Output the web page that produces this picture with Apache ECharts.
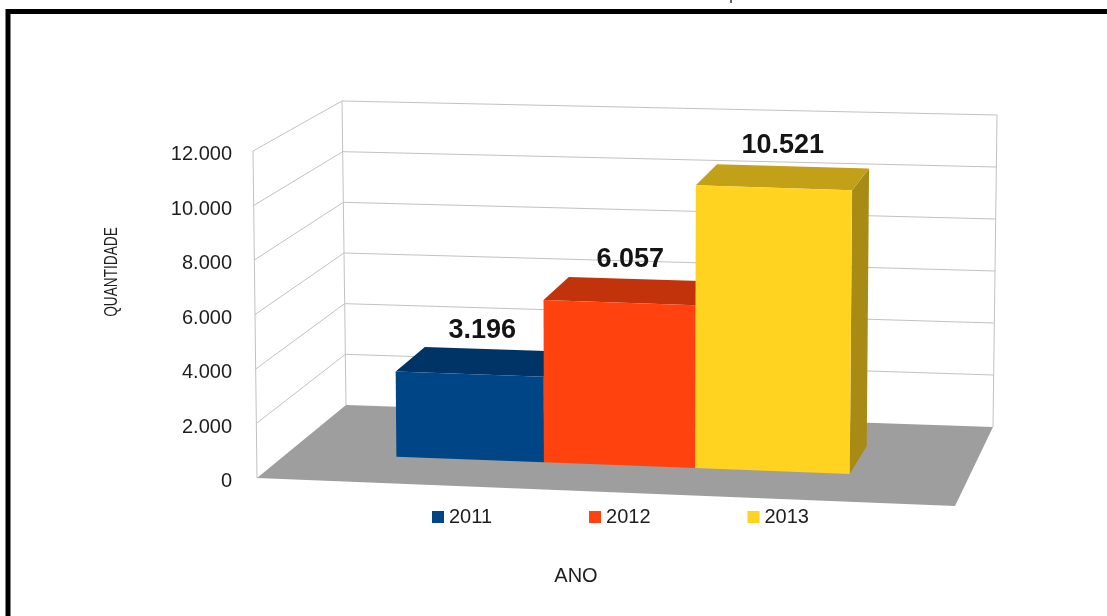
<!DOCTYPE html>
<html>
<head>
<meta charset="utf-8">
<title>Quantidade por ano</title>
<script src="https://cdn.jsdelivr.net/npm/echarts/dist/echarts.min.js"></script>
<style>
  html, body { margin: 0; padding: 0; background: #ffffff; }
  #chart { width: 1107px; height: 616px; }
</style>
</head>
<body>
<div id="chart"></div>
<script>
// ---- data ----
const years = ['2011', '2012', '2013'];
const quantities = [3196, 6057, 10521];
const yTicks = [0, 2000, 4000, 6000, 8000, 10000, 12000];
const yTickLabels = ['0', '2.000', '4.000', '6.000', '8.000', '10.000', '12.000'];

// ---- styling ----
const Y_MAX = 12000;
const Y_STEP = 2000;
const FONT = '"Liberation Sans", Arial, sans-serif';
const BAR_COLORS = ['#004586', '#ff420e', '#ffd320'];
const GRID_COLOR = '#c2c2c2';
const FLOOR_COLOR = '#9e9e9e';
const BAR_DEPTH = [0.33, 0.69];          // front / back of the bars inside the box (0 = front, 1 = back)
const GAP = 0.75;                        // half gap on each side, in bar widths
const LEAN = [-4, 4];                    // horizontal drift of verticals at the left / right of the box

function shade(hex, k) {
  const n = parseInt(hex.slice(1), 16);
  const r = Math.round(((n >> 16) & 255) * k);
  const g = Math.round(((n >> 8) & 255) * k);
  const b = Math.round((n & 255) * k);
  return 'rgb(' + r + ',' + g + ',' + b + ')';
}

function thousands(v) {
  return String(v).replace(/\B(?=(\d{3})+(?!\d))/g, '.');
}

// unit square -> quadrilateral (projective map); p0=(0,0) p1=(1,0) p2=(1,1) p3=(0,1)
function quadMap(p0, p1, p2, p3) {
  const dx1 = p1[0] - p2[0], dx2 = p3[0] - p2[0], dx3 = p0[0] - p1[0] + p2[0] - p3[0];
  const dy1 = p1[1] - p2[1], dy2 = p3[1] - p2[1], dy3 = p0[1] - p1[1] + p2[1] - p3[1];
  const den = dx1 * dy2 - dx2 * dy1;
  const g = (dx3 * dy2 - dx2 * dy3) / den;
  const h = (dx1 * dy3 - dx3 * dy1) / den;
  const a = p1[0] - p0[0] + g * p1[0], b = p3[0] - p0[0] + h * p3[0], c = p0[0];
  const d = p1[1] - p0[1] + g * p1[1], e = p3[1] - p0[1] + h * p3[1], f = p0[1];
  return function (u, v) {
    const w = g * u + h * v + 1;
    return [(a * u + b * v + c) / w, (d * u + e * v + f) / w];
  };
}

// 3D box view anchored on the value axis: u = left->right, v = front->back, val = axis value
function makeView(api) {
  const o = api.coord([0, 0]);
  const t = api.coord([0, Y_MAX]);
  const floor = quadMap([o[0] + 2, o[1]], [o[0] + 700, o[1] + 28],
                        [o[0] + 738, o[1] - 51], [o[0] + 91, o[1] - 73]);
  const ceil = quadMap([t[0] - 2, t[1]], [t[0] + 705, t[1] + 25],
                       [t[0] + 742, t[1] - 36], [t[0] + 88, t[1] - 50]);
  const span = o[1] - t[1];
  return function (u, v, val) {
    const h = (o[1] - api.coord([0, val])[1]) / span;
    const a = floor(u, v), b = ceil(u, v);
    const lean = LEAN[0] + (LEAN[1] - LEAN[0]) * u;
    return [a[0] + lean * h, a[1] + (b[1] - a[1]) * h];
  };
}

// walls, gridlines and floor
function renderWalls(params, api) {
  const P = makeView(api);
  const val = api.value(1);
  const lineStyle = { stroke: GRID_COLOR, lineWidth: 1, fill: null };
  const children = [];
  if (val === 0) {
    [[0, 0], [0, 1], [1, 1]].forEach(function (c) {
      children.push({ type: 'polyline', shape: { points: [P(c[0], c[1], 0), P(c[0], c[1], Y_MAX)] }, style: lineStyle });
    });
    children.push({
      type: 'polygon',
      shape: { points: [P(0, 0, 0), P(1, 0, 0), P(1, 1, 0), P(0, 1, 0)] },
      style: { fill: FLOOR_COLOR }
    });
  } else {
    children.push({ type: 'polyline', shape: { points: [P(0, 0, val), P(0, 1, val), P(1, 1, val)] }, style: lineStyle });
  }
  return { type: 'group', children: children };
}

// one 3D bar per year
function renderBar(params, api) {
  const P = makeView(api);
  const i = params.seriesIndex - 1;
  const val = api.value(1);
  const n = years.length;
  const total = n + 2 * GAP;
  const u0 = (GAP + i) / total, u1 = (GAP + i + 1) / total;
  const vf = BAR_DEPTH[0], vb = BAR_DEPTH[1];
  const color = BAR_COLORS[i];
  const side = [P(u1, vf, 0), P(u1, vb, 0), P(u1, vb, val), P(u1, vf, val)];
  const top = [P(u0, vf, val), P(u1, vf, val), P(u1, vb, val), P(u0, vb, val)];
  const front = [P(u0, vf, 0), P(u1, vf, 0), P(u1, vf, val), P(u0, vf, val)];
  const c = P((u0 + u1) / 2, 0.5, val);
  return {
    type: 'group',
    children: [
      { type: 'polygon', shape: { points: side }, style: { fill: shade(color, 0.66) } },
      { type: 'polygon', shape: { points: top }, style: { fill: shade(color, 0.76) } },
      { type: 'polygon', shape: { points: front }, style: { fill: color } },
      {
        type: 'text', x: c[0], y: c[1] - 32, z2: 10,
        style: {
          text: thousands(val), fill: '#141414',
          font: 'bold 27px ' + FONT, align: 'center', verticalAlign: 'middle'
        }
      }
    ]
  };
}

const series = [{
  name: 'walls',
  type: 'custom',
  renderItem: renderWalls,
  clip: false,
  silent: true,
  data: yTicks.map(function (v) { return [0, v]; })
}];
years.forEach(function (y, i) {
  series.push({
    name: y,
    type: 'custom',
    renderItem: renderBar,
    clip: false,
    itemStyle: { color: BAR_COLORS[i] },
    data: [[0, quantities[i]]]
  });
});

const chart = echarts.init(document.getElementById('chart'), null, { renderer: 'canvas' });
chart.setOption({
  animation: false,
  backgroundColor: '#ffffff',
  color: BAR_COLORS,
  grid: { left: 255, top: 151, right: 210, bottom: 138 },
  xAxis: {
    type: 'value', min: 0, max: 1,
    axisLine: { show: false }, axisTick: { show: false },
    axisLabel: { show: false }, splitLine: { show: false }
  },
  yAxis: {
    type: 'value', min: 0, max: Y_MAX, interval: Y_STEP,
    axisLine: { show: false }, axisTick: { show: false }, splitLine: { show: false },
    axisLabel: {
      margin: 23, color: '#1e1e1e', fontFamily: FONT, fontSize: 20,
      verticalAlign: 'top', lineHeight: 7,
      formatter: function (v) { return yTickLabels[yTicks.indexOf(v)]; }
    }
  },
  legend: {
    data: years, left: 427, top: 502,
    icon: 'rect', itemWidth: 12, itemHeight: 12, itemGap: 97,
    textStyle: { color: '#1e1e1e', fontFamily: FONT, fontSize: 20 }
  },
  graphic: [
    {
      type: 'rect', shape: { x: 8, y: 11.5, width: 1300, height: 800 },
      style: { fill: null, stroke: '#000000', lineWidth: 5 }, silent: true
    },
    {
      type: 'line', shape: { x1: 731, y1: 0, x2: 731, y2: 3 },
      style: { stroke: '#333333', lineWidth: 1.5 }, silent: true
    },
    {
      type: 'text', x: 112, y: 272, rotation: Math.PI / 2, scaleX: 0.76,
      style: { text: 'QUANTIDADE', fill: '#1e1e1e', font: '18px ' + FONT, align: 'center', verticalAlign: 'middle' }
    },
    {
      type: 'text', x: 576, y: 576,
      style: { text: 'ANO', fill: '#1e1e1e', font: '20px ' + FONT, align: 'center', verticalAlign: 'middle' }
    }
  ],
  series: series
});
</script>
</body>
</html>
